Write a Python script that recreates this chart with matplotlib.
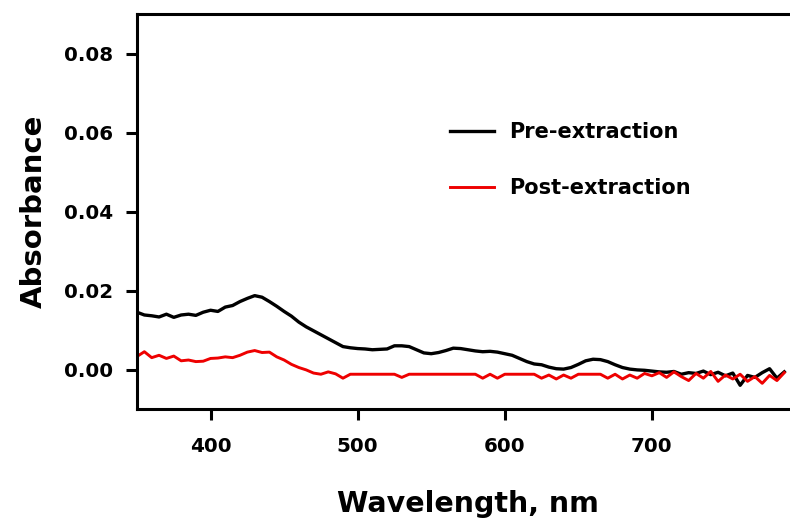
import matplotlib
matplotlib.use("Agg")
import matplotlib.pyplot as plt

# wavelength grid (nm), every 5 nm
wavelength = list(range(350, 795, 5))

pre_extraction = [
    0.0145, 0.0138, 0.0136, 0.0133, 0.0140, 0.0132, 0.0138, 0.0140, 0.0137, 0.0145,
    0.0150, 0.0147, 0.0158, 0.0162, 0.0172, 0.0180, 0.0187, 0.0183, 0.0172, 0.0160,
    0.0147, 0.0135, 0.0120, 0.0108, 0.0098, 0.0088, 0.0078, 0.0068, 0.0058, 0.0055,
    0.0053, 0.0052, 0.0050, 0.0051, 0.0052, 0.0060, 0.0060, 0.0058, 0.0050, 0.0042,
    0.0040, 0.0043, 0.0048, 0.0054, 0.0053, 0.0050, 0.0047, 0.0045, 0.0046, 0.0044,
    0.0040, 0.0036, 0.0028, 0.0020, 0.0014, 0.0012, 0.0006, 0.0002, 0.0001, 0.0005,
    0.0013, 0.0022, 0.0026, 0.0025, 0.0020, 0.0012, 0.0005, 0.0001, -0.0001, -0.0002,
    -0.0004, -0.0006, -0.0007, -0.0005, -0.0012, -0.0008, -0.0010, -0.0004, -0.0013, -0.0007,
    -0.0016, -0.0009, -0.0040, -0.0015, -0.0020, -0.0008, 0.0002, -0.0022, -0.0006,
]

post_extraction = [
    0.0033, 0.0045, 0.0030, 0.0036, 0.0028, 0.0034, 0.0022, 0.0024, 0.0020, 0.0021,
    0.0028, 0.0029, 0.0032, 0.0030, 0.0036, 0.0044, 0.0048, 0.0043, 0.0044, 0.0032,
    0.0024, 0.0013, 0.0005, -0.0001, -0.0009, -0.0012, -0.0006, -0.0011, -0.0022, -0.0012,
    -0.0012, -0.0012, -0.0012, -0.0012, -0.0012, -0.0012, -0.0020, -0.0012, -0.0012, -0.0012,
    -0.0012, -0.0012, -0.0012, -0.0012, -0.0012, -0.0012, -0.0012, -0.0022, -0.0012, -0.0022,
    -0.0012, -0.0012, -0.0012, -0.0012, -0.0012, -0.0022, -0.0014, -0.0024, -0.0014, -0.0022,
    -0.0012, -0.0012, -0.0012, -0.0012, -0.0022, -0.0012, -0.0024, -0.0014, -0.0022, -0.0010,
    -0.0016, -0.0008, -0.0020, -0.0006, -0.0018, -0.0028, -0.0010, -0.0022, -0.0005, -0.0030,
    -0.0014, -0.0024, -0.0012, -0.0030, -0.0018, -0.0035, -0.0015, -0.0028, -0.0008,
]

x_ticks = [400, 500, 600, 700]
y_ticks = [0.00, 0.02, 0.04, 0.06, 0.08]

plt.rcParams['font.family'] = 'DejaVu Sans'
plt.rcParams['font.weight'] = 'bold'

fig = plt.figure(figsize=(7.9, 5.22), dpi=100, facecolor='white')
# axes run a little past the right edge, as in the cropped original
ax = fig.add_axes([137 / 790, 113 / 522, 662 / 790, 395 / 522])

ax.plot(wavelength, pre_extraction, color='black', linewidth=2.4, label='Pre-extraction')
ax.plot(wavelength, post_extraction, color='#ee0000', linewidth=2.1, label='Post-extraction')

ax.set_xlim(350, 800)
ax.set_ylim(-0.01, 0.09)
ax.set_xticks(x_ticks)
ax.set_yticks(y_ticks)
ax.set_yticklabels(['%.2f' % v for v in y_ticks])

for side in ['left', 'bottom', 'top', 'right']:
    ax.spines[side].set_linewidth(2.2)
ax.tick_params(axis='both', direction='out', length=8, width=2.2, labelsize=14.3)
ax.tick_params(axis='x', pad=12)
ax.tick_params(axis='y', pad=9)

ax.set_xlabel('Wavelength, nm', fontsize=20.5, fontweight='bold', labelpad=25)
ax.set_ylabel('Absorbance', fontsize=21, fontweight='bold', labelpad=12)

leg = ax.legend(loc='upper left', bbox_to_anchor=(450 / 790, 1 - 122 / 522),
                bbox_transform=fig.transFigure, frameon=False,
                fontsize=15, handlelength=2.1, handletextpad=0.75, labelspacing=1.75,
                borderaxespad=0, borderpad=0)
for txt in leg.get_texts():
    txt.set_fontweight('bold')

fig.savefig('out.png', dpi=100, facecolor='white')
